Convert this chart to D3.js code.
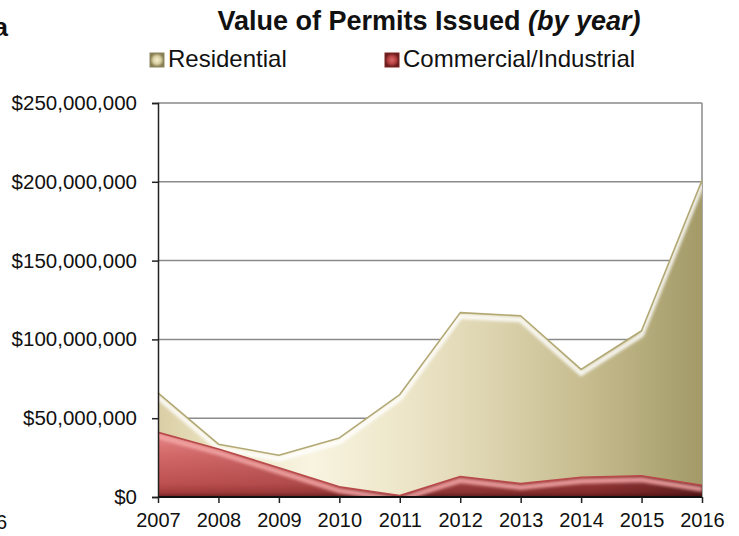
<!DOCTYPE html>
<html>
<head>
<meta charset="utf-8">
<script src="https://cdn.jsdelivr.net/npm/d3@7/dist/d3.min.js"></script>
<style>
  html, body { margin: 0; padding: 0; background: #fff; }
  svg { display: block; font-family: "Liberation Sans", Arial, sans-serif; }
</style>
</head>
<body>
<svg id="chart" width="739" height="536"></svg>
<script>
// Permit values by year (US dollars)
const years = ["2007", "2008", "2009", "2010", "2011", "2012", "2013", "2014", "2015", "2016"];
const residential = [66000000, 33500000, 26500000, 37500000, 65000000, 117000000, 115000000, 81000000, 105500000, 201000000];
const commercial = [41000000, 30500000, 18500000, 6500000, 1000000, 13000000, 8500000, 12500000, 13500000, 7500000];
const yTicks = [0, 50000000, 100000000, 150000000, 200000000, 250000000];
const seriesNames = ["Residential", "Commercial/Industrial"];

const svg = d3.select("#chart");
const plot = { left: 158, right: 702, top: 103, bottom: 497 };

const x = d3.scalePoint().domain(years).range([plot.left, plot.right]);
const y = d3.scaleLinear().domain([0, 250000000]).range([plot.bottom, plot.top]);

const defs = svg.append("defs");

// Residential fill: cream fading to olive toward the right
const gRes = defs.append("linearGradient").attr("id", "resFill")
  .attr("gradientUnits", "userSpaceOnUse")
  .attr("x1", plot.left).attr("x2", plot.right).attr("y1", 0).attr("y2", 0);
[[0, "#dacea4"], [0.12, "#ece4c4"], [0.28, "#f8f4e0"], [0.45, "#ede6c9"], [0.62, "#dcd3ae"], [0.8, "#c4ba8c"], [1, "#a39a68"]]
  .forEach(([o, c]) => gRes.append("stop").attr("offset", o).attr("stop-color", c));

// Commercial fill: red, lighter at the top
const gCom = defs.append("linearGradient").attr("id", "comFill")
  .attr("gradientUnits", "userSpaceOnUse")
  .attr("x1", 0).attr("x2", 0).attr("y1", y(42000000)).attr("y2", plot.bottom);
[[0, "#e68a8a"], [0.35, "#d46a6a"], [0.8, "#bd5050"], [0.93, "#a43c3c"], [1, "#6e2222"]]
  .forEach(([o, c]) => gCom.append("stop").attr("offset", o).attr("stop-color", c));

// Darkening toward the right for the commercial band
const gComShade = defs.append("linearGradient").attr("id", "comShade")
  .attr("gradientUnits", "userSpaceOnUse")
  .attr("x1", plot.left).attr("x2", plot.right).attr("y1", 0).attr("y2", 0);
[[0, "#000", 0], [0.45, "#000", 0.12], [0.8, "#300", 0.3], [1, "#200", 0.55]]
  .forEach(([o, c, a]) => gComShade.append("stop").attr("offset", o).attr("stop-color", c).attr("stop-opacity", a));

defs.append("filter").attr("id", "soft").attr("x", "-10%").attr("y", "-10%").attr("width", "120%").attr("height", "120%")
  .append("feGaussianBlur").attr("stdDeviation", 1.6);

// Legend swatch gradients
const gSwRes = defs.append("radialGradient").attr("id", "swRes");
[[0, "#f6f0d0"], [0.55, "#d8cfa2"], [1, "#857c50"]]
  .forEach(([o, c]) => gSwRes.append("stop").attr("offset", o).attr("stop-color", c));
const gSwCom = defs.append("radialGradient").attr("id", "swCom");
[[0, "#d86a6a"], [0.55, "#b84444"], [1, "#6a1c1c"]]
  .forEach(([o, c]) => gSwCom.append("stop").attr("offset", o).attr("stop-color", c));

// Gridlines and plot frame
const grid = svg.append("g");
grid.selectAll("line.h").data(yTicks.filter(d => d > 0)).join("line")
  .attr("x1", plot.left).attr("x2", plot.right)
  .attr("y1", d => y(d)).attr("y2", d => y(d))
  .attr("stroke", "#8a8a8a").attr("stroke-width", 1.5);
grid.append("line")
  .attr("x1", plot.right).attr("x2", plot.right).attr("y1", plot.top).attr("y2", plot.bottom)
  .attr("stroke", "#8a8a8a").attr("stroke-width", 1.5);

const area = (vals) => d3.area()
  .x((d, i) => x(years[i])).y0(plot.bottom).y1(d => y(d))(vals);
const topLine = (vals, dy) => d3.line()
  .x((d, i) => x(years[i])).y(d => y(d) + dy)(vals);

function drawSeries(vals, id, fill, hiColor, edgeColor, shadeFill) {
  const g = svg.append("g");
  defs.append("clipPath").attr("id", id + "Clip").append("path").attr("d", area(vals));
  g.append("path").attr("d", area(vals)).attr("fill", fill);
  if (shadeFill) g.append("path").attr("d", area(vals)).attr("fill", shadeFill);
  const inner = g.append("g").attr("clip-path", `url(#${id}Clip)`);
  // bevel highlight just under the top edge
  inner.append("path").attr("d", topLine(vals, 4))
    .attr("fill", "none").attr("stroke", hiColor).attr("stroke-width", 5)
    .attr("stroke-opacity", 0.85).attr("filter", "url(#soft)");
  // darker bevel on the right edge
  inner.append("line")
    .attr("x1", plot.right - 2).attr("x2", plot.right - 2).attr("y1", plot.top).attr("y2", plot.bottom)
    .attr("stroke", "#000").attr("stroke-opacity", 0.18).attr("stroke-width", 6).attr("filter", "url(#soft)");
  g.append("path").attr("d", topLine(vals, 0))
    .attr("fill", "none").attr("stroke", edgeColor).attr("stroke-width", 1.6)
    .attr("stroke-linejoin", "round");
  return g;
}

drawSeries(residential, "res", "url(#resFill)", "#ffffff", "#b2a874", null);
drawSeries(commercial, "com", "url(#comFill)", "#f4a8a8", "#b84a4a", "url(#comShade)");

// Axes
const yAxis = d3.axisLeft(y).tickValues(yTicks).tickSize(6).tickPadding(15)
  .tickFormat(d => "$" + d3.format(",")(d));
const yg = svg.append("g").attr("transform", `translate(${plot.left},0)`).call(yAxis);
yg.select(".domain").attr("stroke", "#222").attr("stroke-width", 1.5);
yg.selectAll(".tick line").attr("stroke", "#222").attr("stroke-width", 1.5);
yg.selectAll(".tick text").attr("font-size", 20.5).attr("fill", "#111")
  .attr("font-family", "'Liberation Sans', Arial, sans-serif");

const xAxis = d3.axisBottom(x).tickSize(6).tickPadding(10);
const xg = svg.append("g").attr("transform", `translate(0,${plot.bottom})`).call(xAxis);
xg.select(".domain").attr("stroke", "#111").attr("stroke-width", 2).attr("d", `M${plot.left},0H${plot.right}`);
xg.selectAll(".tick line").attr("stroke", "#222").attr("stroke-width", 1.5);
xg.selectAll(".tick text").attr("font-size", 20).attr("fill", "#111")
  .attr("font-family", "'Liberation Sans', Arial, sans-serif");

// Title
const title = svg.append("text").attr("x", 429).attr("y", 30).attr("text-anchor", "middle")
  .attr("font-size", 27).attr("font-weight", "bold").attr("fill", "#111");
title.append("tspan").text("Value of Permits Issued ");
title.append("tspan").attr("font-style", "italic").text("(by year)");

// Legend
const legend = svg.append("g");
const legendItems = [
  { name: seriesNames[0], sw: "url(#swRes)", stroke: "#8e8660", x: 150 },
  { name: seriesNames[1], sw: "url(#swCom)", stroke: "#7a2424", x: 385 }
];
legendItems.forEach(it => {
  legend.append("rect").attr("x", it.x).attr("y", 53).attr("width", 14).attr("height", 14)
    .attr("fill", it.sw).attr("stroke", it.stroke).attr("stroke-width", 1);
  legend.append("text").attr("x", it.x + 18).attr("y", 67).attr("font-size", 24).attr("fill", "#111").text(it.name);
});

// Neighbouring text clipped at the left page edge
svg.append("text").attr("x", 8).attr("y", 36).attr("text-anchor", "end")
  .attr("font-size", 26).attr("font-weight", "bold").attr("fill", "#111").text("a");
svg.append("text").attr("x", 7).attr("y", 529).attr("text-anchor", "end")
  .attr("font-size", 20).attr("fill", "#111").text("6");
</script>
</body>
</html>
